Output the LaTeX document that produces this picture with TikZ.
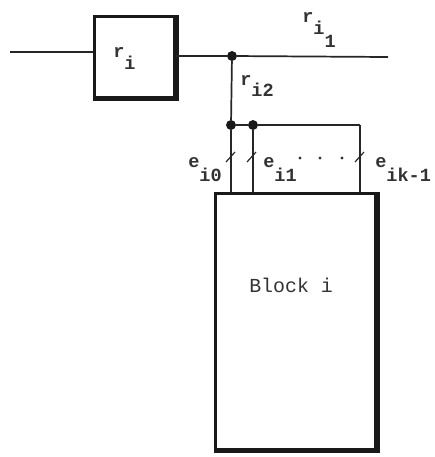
\documentclass[tikz,border=0pt]{standalone}
\usepackage{fontspec}
\setmonofont{Liberation Mono}
\usetikzlibrary{positioning}
\newcommand{\lowsub}[2][9.7pt]{\raisebox{-#1}{#2}}

\begin{document}
\begin{tikzpicture}[
    x=0.0265cm, y=-0.0265cm,
    outline/.style={rectangle, draw=black!90, line width=2.4pt, fill=white, anchor=north west, inner sep=0pt},
    heavy/.style={draw=black!90, line width=3.6pt, shift={(-1,-1)}},
    wire/.style={draw=black!85, line width=1.3pt},
    junction/.style={circle, fill=black!90, inner sep=0pt, minimum size=7.5pt},
    labelnode/.style={font=\ttfamily\bfseries\fontsize{14}{14}\selectfont, text=black!80, inner sep=0pt, anchor=base west},
    tickmark/.style={draw=black!85, line width=0.9pt}
]
    \useasboundingbox (0,0) rectangle (434,457);

    % --- Boxes ---
    \node[outline, minimum width=2.12cm, minimum height=2.14cm] (reg) at (93,15) {};
    \node[outline, minimum width=4.25cm, minimum height=6.78cm] (block) at (214,192) {};
    \draw[heavy] (reg.north east) -- (reg.south east) -- (reg.south west);
    \draw[heavy] (block.north east) -- (block.south east) -- (block.south west);

    % --- Junctions and free ends ---
    \coordinate (in) at (10,52);
    \coordinate (out) at (388,57);
    \node[junction] (top) at (232,56) {};
    \node[junction] (left) at (231,125) {};
    \node[junction] (mid) at (253,125) {};
    \coordinate (corner) at (360,125);

    % --- Wires ---
    \draw[wire] (in) -- (reg.west |- in);
    \draw[wire] (reg.east |- top) -- (top) -- (out);
    \draw[wire] (top) -- (left);
    \draw[wire] (left) -- (mid) -- (corner);
    \draw[wire] (left) -- (left |- block.north);
    \draw[wire] (mid) -- (mid |- block.north);
    \draw[wire] (corner) -- (corner |- block.north);

    % --- Ticks on the three lines ---
    \foreach \w in {231,252,360} {
        \draw[tickmark] (\w-5,162) -- (\w+4,152);
    }

    % --- Labels ---
    \node[labelnode] (ri) at (113,57) {r\lowsub{i}};
    \node[labelnode] (ri1) at (302,22) {r\lowsub{i\lowsub{1}}};
    \node[labelnode] (ri2) at (240,85) {r\lowsub[9pt]{i2}};
    \node[labelnode] (e0) at (188,167) {e\lowsub[11pt]{i0}};
    \node[labelnode] (e1) at (263,167) {e\lowsub[11pt]{i1}};
    \node[labelnode] (ek) at (375,167) {e\lowsub[11pt]{ik-1}};
    \node[labelnode, font=\ttfamily\fontsize{15}{15}\selectfont] (blocklabel) at (249,292) {Block i};
    \foreach \d in {300,320,342} {
        \node[circle, fill=black!80, inner sep=0pt, minimum size=2.6pt] (dot\d) at (\d,158) {};
    }
\end{tikzpicture}
\end{document}
